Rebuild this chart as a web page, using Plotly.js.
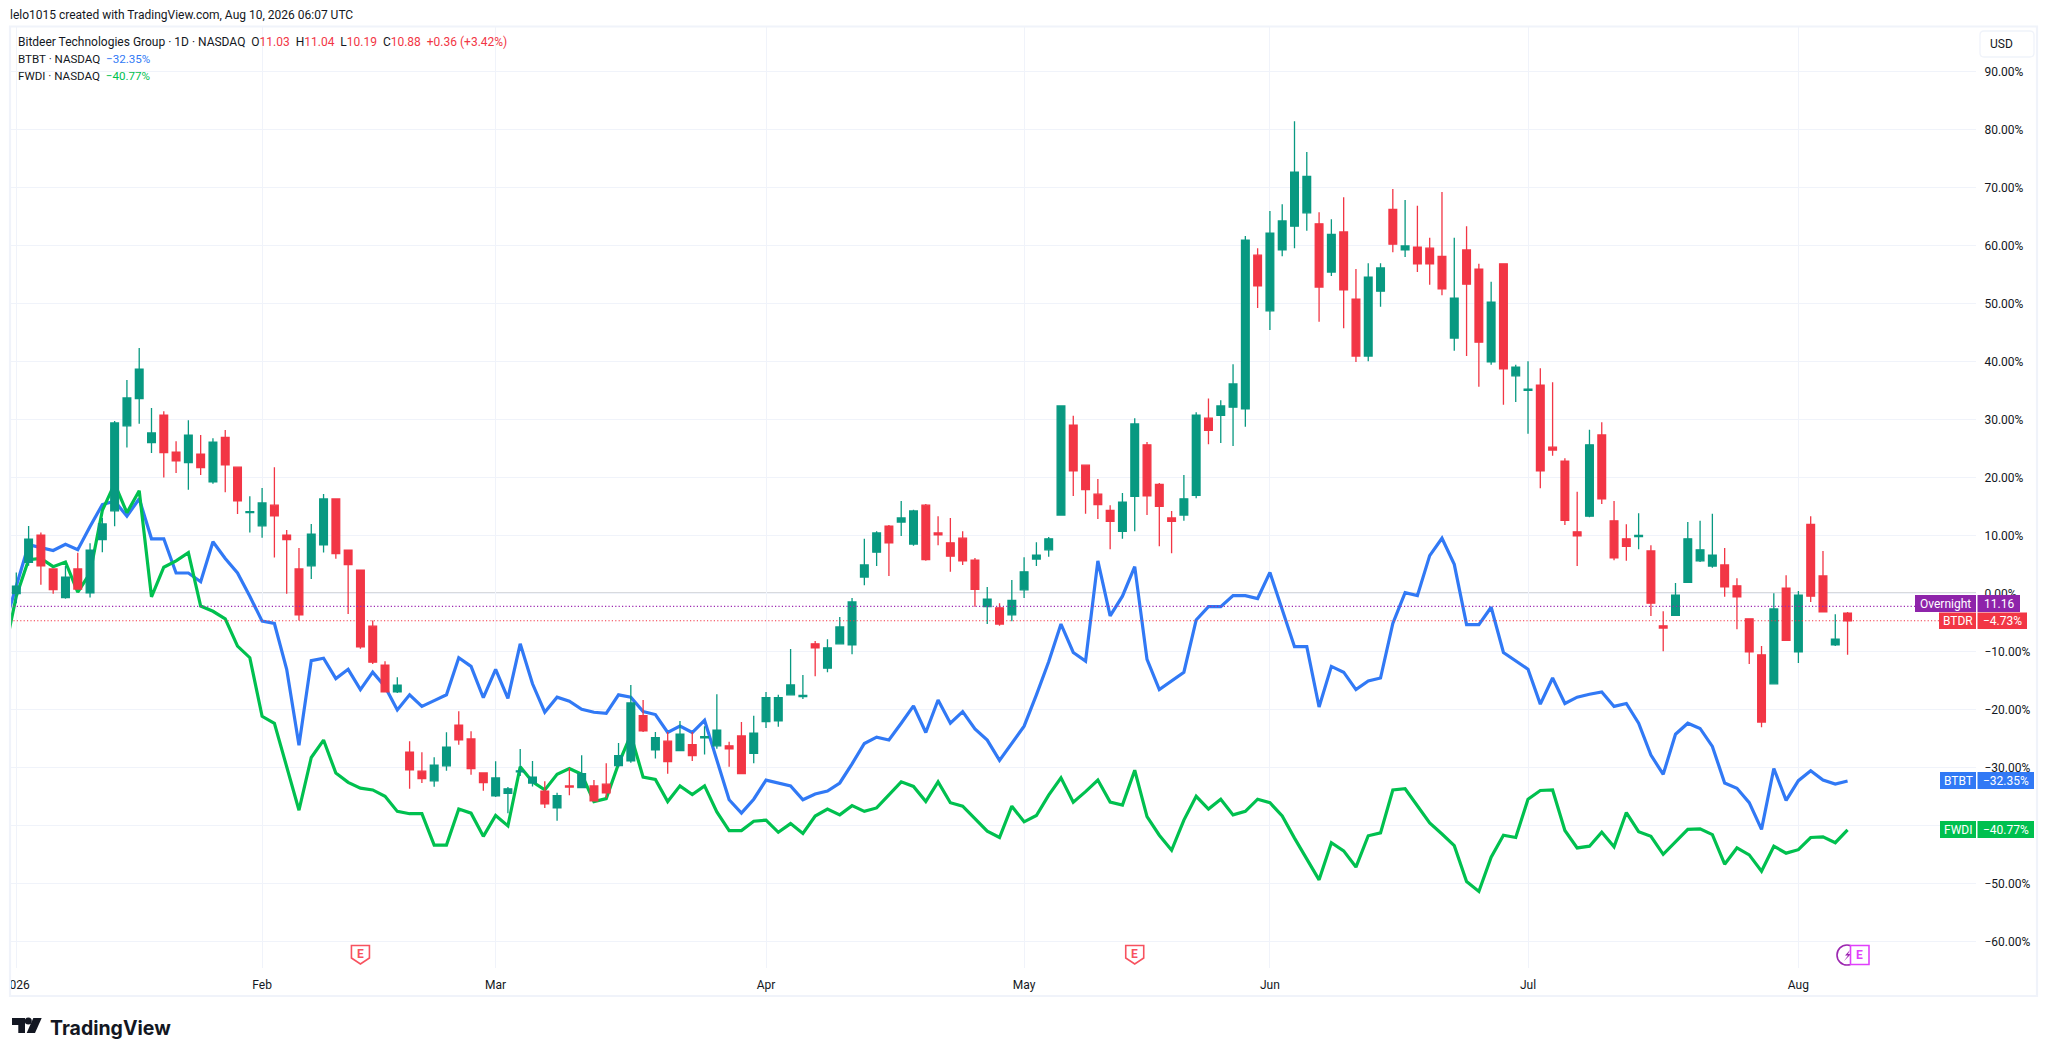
<!DOCTYPE html>
<html><head><meta charset="utf-8">
<script src="https://cdn.plot.ly/plotly-3.0.1.min.js"></script>
<style>html,body{margin:0;padding:0;background:#fff}#c{width:2048px;height:1056px}</style>
</head><body><div id="c"></div>
<script>
const monthLabels = ["2026","Feb","Mar","Apr","May","Jun","Jul","Aug"];
const monthIdx = [0,20,39,61,82,102,123,145];
const pctTicks = [90,80,70,60,50,40,30,20,10,0,-10,-20,-30,-40,-50,-60];
const earningsIdx = [28,91];

const open = [-0.06,5.36,10.04,4.19,-0.74,4.19,0.06,9.24,14.22,28.88,
33.56,25.99,30.73,24.32,22.54,24.0,19.2,26.9,21.74,13.9,
11.64,15.2,10.04,4.19,4.74,8.37,16.26,7.45,4.0,-5.67,
-12.38,-17.0,-27.4,-30.67,-32.33,-29.74,-22.72,-25.12,-30.97,-34.9,
-34.5,-30.8,-32.7,-34.1,-37,-33.2,-33.5,-33.2,-32.9,-29.7,
-28.9,-21.1,-27,-25.5,-27.1,-26.1,-24.9,-26.3,-26.3,-24.6,
-27.6,-22.1,-22,-17.5,-17.8,-8.7,-12.9,-8.7,-8.9,2.8,
7.1,11.6,12.3,8.5,15.2,10.4,8.7,9.5,5.7,-2.3,
-2.5,-3.7,0.6,5.9,7.5,13.5,29,22.1,17.1,14.3,
10.7,16.7,25.6,18.8,13,13.5,16.9,30.2,30.7,32.1,
31.8,58.3,48.7,59.2,63.3,65.6,63.7,55.4,62.3,50.7,
40.9,52.1,66.2,59.2,59.7,59.5,58.1,44,59.2,55.9,
39.9,56.8,37.5,35,35.9,25.2,22.8,10.6,13.3,27.3,
12.5,9.4,9.8,7.3,-5.6,-3.8,1.9,5.6,4.7,4.9,
1.3,-4.4,-10.6,-15.6,0.9,-10.1,11.9,3,-8.9,-3.4];

const close = [1.23,9.36,4.74,0.62,2.77,0.74,7.45,11.95,29.37,33.68,
38.67,27.65,24.26,22.84,27.28,21.67,26.05,22.17,15.95,14.1,
15.58,13.36,9.24,-3.7,10.22,16.26,6.83,4.93,-9.24,-11.88,
-17.0,-15.83,-30.42,-31.96,-29.62,-26.54,-25.25,-30.23,-32.64,-31.83,
-33.7,-30.6,-31.7,-36.3,-34.9,-33.4,-31.1,-35.8,-34.4,-28,
-18.9,-23.7,-24.9,-29,-24.3,-28,-24.7,-23.6,-26.8,-31.1,
-24.1,-18,-18,-15.8,-17.6,-9.4,-9.4,-5.8,-1.5,4.9,
10.4,8.7,13,14.2,5.8,10.1,6.4,5.6,0.7,-1,
-5.3,-1.2,3.7,6.6,9.4,32.3,21.1,17.9,15.3,12.4,
15.7,29.2,16.8,15,12.4,16.3,30.7,28.1,32.3,36.1,
60.9,53,62.1,64.2,72.6,71.9,52.8,61.9,52.3,40.9,
54.5,56.1,60.2,59.9,56.8,56.8,52.5,50.9,53.3,43.3,
50.2,38.7,39,35.2,21.1,24.7,12.6,9.9,25.6,16.3,
6.1,8.1,10,-1.7,-6,-0.3,9.4,7.5,6.6,1.1,
-0.6,-10.1,-22.2,-2.7,-8.1,-0.3,-0.5,-3.2,-7.9,-4.73];

const high = [3.6,11.6,10.5,4.19,4.7,7.0,8.62,13,29.7,36.76,
42.3,31.96,31.4,26.23,29.86,27.28,26.72,28.14,21.74,16.75,
18.16,21.74,10.9,7.82,11.95,17.12,16.26,7.45,4.0,-4.68,
-11.7,-14.47,-25.5,-27.4,-28.26,-23.95,-20.32,-23.77,-30.97,-28.94,
-33.4,-26.85,-28.9,-32.4,-34.4,-30.1,-27.9,-32.2,-29.3,-25.8,
-15.8,-18.4,-23.9,-23.9,-22,-23.9,-22.9,-17.4,-25.6,-22.2,
-21.1,-17,-17.5,-9.6,-14.1,-8.2,-7.9,-4.1,-0.8,9.4,
10.7,11.8,15.9,14.4,15.4,13.3,13,10.7,6.1,1.1,
-1.7,2.3,6.2,8.8,9.7,32.3,30.6,22.1,19.7,15.2,
17.3,30.2,26.1,19,14.2,20.4,31.2,33.6,33.3,39.5,
61.6,59.5,65.9,67.1,81.4,76.1,65.7,64.5,68.3,55.9,
56.9,56.9,69.7,67.8,66.8,61.3,69.2,61.3,63.3,56.8,
53.7,56.8,39.4,40,38.8,36.4,23.3,17.5,28.2,29.5,
15.9,11.9,13.8,8.3,-3.1,1.8,12.3,12.5,13.7,7.8,
2.6,-4.4,-9.1,0,3.1,0.4,13.3,7.3,-3.6,-3.2];

const low = [-1.7,4.74,1.48,-0.06,-0.92,0.74,-0.74,7.08,11.58,25.12,
29.25,24.2,19.95,20.75,17.86,20.38,18.9,17.43,13.67,10.47,
9.6,6.16,-0.06,-4.68,2.46,7.02,5.97,-3.57,-9.54,-12.19,
-17.0,-17.18,-33.68,-32.7,-33.37,-30.6,-26.1,-31.28,-34.05,-35.1,
-37.9,-31.5,-33.3,-37,-39.2,-34.8,-33.5,-35.8,-35.3,-30,
-29.2,-23.9,-28.5,-31.1,-27.1,-28.9,-27.8,-26.8,-29.9,-31.1,
-29.3,-23.2,-23,-17.5,-18.2,-14.3,-13.6,-8.7,-10.5,1.4,
4.7,3,9.9,8.2,5.6,8.3,3.7,4.9,-2.3,-5.3,
-5.6,-4.8,-0.8,4.7,6.3,13.5,16.8,13.7,12.8,7.6,
9.4,10.7,13.5,8.1,6.9,12.5,16.4,25.7,25.9,25.4,
28.7,49.2,45.4,58.1,59.5,62.5,46.8,54.7,45.7,39.9,
40,49.4,58.8,58,55.4,53.2,51.4,41.8,40.9,35.6,
39.4,32.5,33,27.5,18.1,23.7,11.8,4.7,13.1,15.4,
5.7,5.6,7.6,-3.9,-10,-3.8,1.9,5.4,4.4,-0.6,
-6.2,-12.2,-23.1,-15.6,-8.2,-12,-1.5,-3.2,-9.1,-10.6];

// comparison series start one session before the first visible candle
const btbt = [-5.85,
1.35,8.37,7.88,7.39,8.44,7.51,11.5,15.3,15.9,13.3,
16.3,9.4,9.4,3.5,3.5,2.0,8.9,6.0,3.5,-0.5,
-4.8,-5.2,-13.1,-26.2,-11.6,-11.2,-14.7,-13.1,-16.6,-13.6,
-16.1,-20.1,-17.5,-19.5,-18.5,-17.5,-11.1,-12.6,-18.0,-13.1,
-18.1,-8.7,-15.6,-20.5,-17.9,-18.6,-20,-20.5,-20.7,-17.5,
-17.9,-20.4,-20.9,-24,-22.9,-24,-21.9,-28.7,-35.6,-37.9,
-35.5,-32.2,-32.7,-33.2,-35.6,-34.6,-34.1,-32.7,-29.4,-25.9,
-24.8,-25.3,-22.4,-19.4,-24,-18.4,-22.4,-20.4,-23.4,-25.3,
-28.8,-25.9,-22.9,-17.5,-11.8,-5.3,-10.2,-11.7,5.6,-3.9,
-0.5,4.6,-11.4,-16.6,-15.1,-13.6,-4.6,-2.3,-2.3,-0.4,
-0.4,-0.9,3.6,-2.9,-9.2,-9.2,-19.6,-12.6,-13.6,-16.6,
-15.1,-14.6,-5.2,0.1,-0.4,6.5,9.5,5,-5.4,-5.4,
-2.4,-10.2,-11.6,-13.1,-19.1,-14.6,-19,-17.9,-17.4,-17,
-19.5,-19,-22.4,-27.9,-31.2,-24.3,-22.4,-23.3,-26.4,-32.7,
-33.6,-36.1,-40.7,-30.2,-35.7,-32.3,-30.6,-32.2,-32.9,-32.35];

const fwdi = [-10.6,
-0.5,5.8,6.0,4.6,5.4,0.2,3.5,14.3,18.9,13.9,
17.7,-0.6,4.5,5.6,7.0,-2.2,-3.1,-4.4,-9.1,-11.1,
-21.2,-22.4,-30,-37.4,-28.3,-25.3,-31,-32.6,-33.6,-33.9,
-35,-37.6,-38,-38,-43.4,-43.4,-37.2,-37.9,-41.9,-38.3,
-40.1,-29.9,-32.5,-33.9,-31.2,-30.2,-31.2,-35.9,-35.4,-29.4,
-24.4,-31.7,-32.1,-35.9,-33.2,-34.7,-33.2,-37.7,-40.9,-40.9,
-39.3,-39.1,-41.2,-39.7,-41.4,-38.4,-37.2,-38.2,-36.6,-37.6,
-37,-34.8,-32.5,-33.3,-35.9,-32.5,-36.1,-36.7,-38.9,-41,
-42.1,-36.7,-39.4,-38.3,-34.8,-31.8,-36,-34.2,-32.2,-36,
-36.5,-30.5,-38.5,-41.7,-44.3,-39.1,-35,-37.2,-35.5,-38.2,
-37.6,-35.5,-36.1,-38.4,-42.2,-45.8,-49.4,-43,-44.4,-47.2,
-41.8,-41.3,-33.9,-33.7,-36.7,-39.6,-41.5,-43.5,-49.7,-51.4,
-45.5,-41.7,-42.1,-35.5,-34,-33.9,-40.9,-43.9,-43.6,-41.2,
-43.7,-37.8,-41.1,-41.9,-45,-42.8,-40.7,-40.6,-41.6,-46.7,
-43.9,-45.1,-47.9,-43.6,-44.8,-44.2,-42.1,-42,-43,-40.77];

const overnightPct = -2.25, lastPct = -4.73;
const barIdx = open.map((_, i) => i);
const lineIdx = btbt.map((_, i) => i - 1);

const RED="#f23645", TEAL="#089981", BLUE="#3179f5", GREEN="#00c04f", PURPLE="#8e24aa", PINK="#e040fb", GRID="#f0f3fa", FRAME="#f0f3fa", INK="#131722";
const FONT="Roboto, sans-serif";
const L=10,R=1976,T=27,B=968;
const X=p=>(p-L)/(R-L), Y=p=>1-(p-T)/(B-T);
const xRange=[-0.513,159.45], yRange=[-64.6,97.64];

const rect=(x0,y0,x1,y1,fill,line)=>({type:"rect",xref:"paper",yref:"paper",layer:"above",x0:X(x0),x1:X(x1),y0:Y(y0),y1:Y(y1),fillcolor:fill,line:line?{color:line,width:1.3}:{width:0}});
const poly=(pts,fill,line,close=true)=>({type:"path",xref:"paper",yref:"paper",layer:"above",fillcolor:fill,line:line?{color:line,width:1.6}:{width:0},
  path:pts.map((p,i)=>(i?"L":"M")+X(p[0])+","+Y(p[1])).join(" ")+(close?" Z":"")});
const note=(text,x,y,color,size,anchor="left",extra={})=>Object.assign({xref:"paper",yref:"paper",x:X(x),y:Y(y),text,showarrow:false,xanchor:anchor,yanchor:"middle",align:anchor,font:{family:FONT,size,color},borderpad:0},extra);
const hl=(v,color,dash,layer)=>({type:"line",xref:"paper",yref:"y",x0:0,x1:1,y0:v,y1:v,layer,line:{color,width:dash?1.2:1.5,dash:dash||"solid"}});

function badge(name,val,y0,y1,x0,x1,color){
  return {shapes:[rect(x0,y0,1976,y1,color),rect(1977.5,y0,x1,y1,color)],
    notes:[note(name,(x0+1976)/2,(y0+y1)/2,"#fff",12,"center"),note(val,(1977.5+x1)/2,(y0+y1)/2,"#fff",12,"center")]};
}
const badges=[
  badge("Overnight","11.16",595,612,1915,2020,PURPLE),
  badge("BTDR","\u22124.73%",612.5,629,1939,2027,RED),
  badge("BTBT","\u221232.35%",772,789,1940,2034,BLUE),
  badge("FWDI","\u221240.77%",821,838,1940,2034,GREEN)
];

function earnShape(i){
  const c=L+(i-xRange[0])*(R-L)/(xRange[1]-xRange[0]);
  return poly([[c-9,945.5],[c+9,945.5],[c+9,958],[c,964],[c-9,958]],"#fff","#f7525f");
}

const shapes=[
  hl(0,"#b2b5be",null,"below"),
  hl(overnightPct,"#9c27b0","1.2px,2.2px","above"),
  hl(lastPct,RED,"1.2px,2.2px","above"),
  {type:"rect",xref:"paper",yref:"paper",layer:"above",x0:X(0),x1:X(9),y0:Y(972),y1:Y(992),fillcolor:"#fff",line:{width:0}},
  {type:"rect",xref:"paper",yref:"paper",layer:"above",x0:X(10),x1:X(2037),y0:Y(26.5),y1:Y(996),fillcolor:"rgba(0,0,0,0)",line:{color:FRAME,width:2.2}},
  {type:"path",xref:"paper",yref:"paper",layer:"above",fillcolor:"#fff",line:{color:FRAME,width:1.3},
   path:`M${X(1984)},${Y(31)} L${X(2030)},${Y(31)} Q${X(2034)},${Y(31)} ${X(2034)},${Y(35)} L${X(2034)},${Y(53)} Q${X(2034)},${Y(57)} ${X(2030)},${Y(57)} L${X(1984)},${Y(57)} Q${X(1980)},${Y(57)} ${X(1980)},${Y(53)} L${X(1980)},${Y(35)} Q${X(1980)},${Y(31)} ${X(1984)},${Y(31)} Z`},
  ...earningsIdx.map(earnShape),
  {type:"circle",xref:"paper",yref:"paper",layer:"above",x0:X(1837),x1:X(1857),y0:Y(945),y1:Y(965),fillcolor:"#fff",line:{color:"#9c27b0",width:1.6}},
  poly([[1850,950],[1845,955.5],[1848,955.5],[1844,961],[1851,954],[1848,954]],"#9c27b0"),
  {type:"rect",xref:"paper",yref:"paper",layer:"above",x0:X(1850.5),x1:X(1869),y0:Y(945.5),y1:Y(964.5),fillcolor:"#fff",line:{color:PINK,width:1.6}},
  ...badges.flatMap(b=>b.shapes),
  // TradingView mark
  poly([[12,1018],[25,1018],[25,1033],[18.3,1033],[18.3,1025],[12,1025]],INK),
  {type:"circle",xref:"paper",yref:"paper",layer:"above",x0:X(24.8),x1:X(31.8),y0:Y(1017.5),y1:Y(1024.5),fillcolor:INK,line:{width:0}},
  poly([[33.3,1018],[41.7,1018],[35,1033],[26.7,1033]],INK)
];

const span=(t,c)=>`<span style="color:${c}">${t}</span>`;
const annotations=[
  note("Bitdeer Technologies Group \u00b7 1D \u00b7 NASDAQ  O"+span("11.03",RED)+"  H"+span("11.04",RED)+"  L"+span("10.19",RED)+"  C"+span("10.88",RED)+"  "+span("+0.36 (+3.42%)",RED),17,41.7,INK,12),
  note("BTBT \u00b7 NASDAQ  "+span("\u221232.35%",BLUE),17,58.7,INK,11.6),
  note("FWDI \u00b7 NASDAQ  "+span("\u221240.77%",GREEN),17,75.7,INK,11.6),
  note("USD",1989,44,INK,12),
  ...earningsIdx.map(i=>note("<b>E</b>",L+(i-xRange[0])*(R-L)/(xRange[1]-xRange[0]),954,"#f7525f",12,"center")),
  note("<b>E</b>",1859.7,955,PINK,12,"center"),
  ...badges.flatMap(b=>b.notes),
  note("<b>TradingView</b>",49,1027.5,INK,21,"left",{font:{family:"Inter, sans-serif",size:19.5,color:INK}})
];

const traces=[
  {type:"scatter",mode:"lines",name:"BTBT",x:lineIdx,y:btbt,line:{color:BLUE,width:3.2,shape:"linear"},hoverinfo:"skip"},
  {type:"scatter",mode:"lines",name:"FWDI",x:lineIdx,y:fwdi,line:{color:GREEN,width:3.2,shape:"linear"},hoverinfo:"skip"},
  {type:"candlestick",name:"BTDR",x:barIdx,open,high,low,close,xaxis:"x2",yaxis:"y2",whiskerwidth:0,
   increasing:{line:{color:TEAL,width:1.3},fillcolor:TEAL},decreasing:{line:{color:RED,width:1.3},fillcolor:RED}}
];

const layout={
  width:2048,height:1056,paper_bgcolor:"#fff",plot_bgcolor:"#fff",showlegend:false,boxgap:0.373,boxgroupgap:0,
  margin:{l:L,r:2048-R,t:T,b:1056-B,pad:0},
  font:{family:FONT,size:12,color:INK},
  title:{text:"lelo1015 created with TradingView.com, Aug 10, 2026 06:07 UTC",x:10/2048,xanchor:"left",y:1-15/1056,yanchor:"middle",pad:{t:0,b:0,l:0,r:0},font:{family:FONT,size:12,color:INK}},
  xaxis:{type:"linear",range:xRange,tickmode:"array",tickvals:monthIdx,ticktext:monthLabels,showgrid:true,gridcolor:GRID,gridwidth:1,zeroline:false,showline:false,ticks:"outside",ticklen:6,tickcolor:"rgba(0,0,0,0)",tickfont:{family:FONT,size:12,color:INK},rangeslider:{visible:false}},
  yaxis:{type:"linear",range:yRange,side:"right",tickmode:"array",tickvals:pctTicks,ticktext:pctTicks.map(v=>(v<0?"\u2212":"")+Math.abs(v).toFixed(2)+"%"),showgrid:true,gridcolor:GRID,gridwidth:1,zeroline:false,showline:false,ticks:"outside",ticklen:5,tickcolor:"rgba(0,0,0,0)",tickfont:{family:FONT,size:12,color:INK}},
  xaxis2:{type:"linear",range:xRange,overlaying:"x",visible:false,rangeslider:{visible:false}},
  yaxis2:{type:"linear",range:yRange,overlaying:"y",visible:false,side:"right"},
  shapes,annotations,hovermode:false
};
Plotly.newPlot("c",traces,layout,{displayModeBar:false,staticPlot:true});
</script></body></html>
